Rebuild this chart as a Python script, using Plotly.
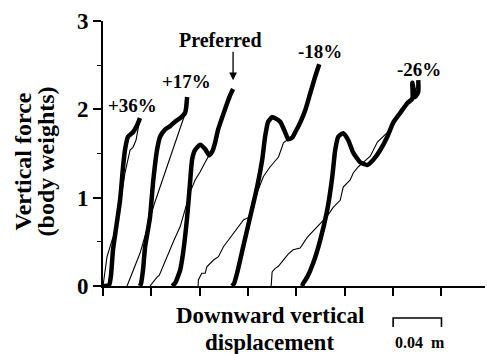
import plotly.graph_objects as go

# ---- data (displacement in m, force in body weights) ----
p36_thick_x = [0, 0.005, 0.0066, 0.0083, 0.0141, 0.0166, 0.0182, 0.0207, 0.0248, 0.0282, 0.0306]
p36_thick_y = [0, 0.01, 0.12, 0.41, 0.97, 1.35, 1.54, 1.69, 1.74, 1.82, 1.90]
p36_thin_x = [0, 0.0033, 0.0075, 0.0099, 0.0141, 0.0182, 0.0224, 0.0248, 0.0273, 0.029, 0.0306]
p36_thin_y = [0, 0.33, 0.52, 0.61, 0.92, 1.28, 1.54, 1.57, 1.65, 1.80, 1.90]

p17_thick_x = [0.0306, 0.0315, 0.0331, 0.0348, 0.0389, 0.0414, 0.0447, 0.0472, 0.0513, 0.0555, 0.0596, 0.0638, 0.0679, 0.0687, 0.0696]
p17_thick_y = [0, 0.03, 0.18, 0.44, 0.78, 1.17, 1.54, 1.69, 1.77, 1.81, 1.86, 1.90, 1.96, 2.01, 2.14]
p17_thin_x = [0.0199, 0.0306, 0.0422, 0.0497, 0.0571, 0.0638, 0.0679, 0.0696]
p17_thin_y = [0, 0.37, 0.92, 1.22, 1.54, 1.81, 1.95, 2.11]

pref_thick_x = [0.0571, 0.0596, 0.0638, 0.0662, 0.0696, 0.072, 0.0737, 0.0762, 0.0803, 0.0845, 0.0878, 0.0903, 0.0927, 0.0952, 0.0994, 0.1027, 0.1052, 0.1076]
pref_thick_y = [0, 0.03, 0.18, 0.37, 0.78, 1.17, 1.43, 1.54, 1.60, 1.55, 1.48, 1.52, 1.62, 1.77, 1.94, 2.07, 2.16, 2.23]
pref_thin_x = [0.0389, 0.0406, 0.0447, 0.0465, 0.0489, 0.053, 0.0588, 0.0638, 0.0679, 0.072, 0.0762, 0.0803, 0.0845, 0.0878, 0.0903, 0.0927, 0.0969, 0.1018, 0.1076]
pref_thin_y = [0, 0.03, 0.10, 0.12, 0.20, 0.33, 0.52, 0.67, 0.86, 1.06, 1.20, 1.29, 1.40, 1.48, 1.54, 1.63, 1.82, 2.04, 2.22]

m18_thick_x = [0.1068, 0.1085, 0.111, 0.1159, 0.1217, 0.1275, 0.1317, 0.1341, 0.1366, 0.1399, 0.1424, 0.1466, 0.1507, 0.1532, 0.1565, 0.159, 0.1631, 0.1673, 0.1714, 0.1755, 0.1789]
m18_thick_y = [0, 0.03, 0.15, 0.44, 0.78, 1.12, 1.43, 1.69, 1.86, 1.91, 1.90, 1.86, 1.74, 1.66, 1.68, 1.74, 1.85, 1.99, 2.18, 2.37, 2.51]
m18_thin_x = [0.0787, 0.0789, 0.0817, 0.0845, 0.0859, 0.0914, 0.0955, 0.0996, 0.1038, 0.1107, 0.1162, 0.1217, 0.1273, 0.1327, 0.1383, 0.1452, 0.1493, 0.1521, 0.1565, 0.1598, 0.1631, 0.1673, 0.1714, 0.1755, 0.178]
m18_thin_y = [0, 0.068, 0.144, 0.144, 0.218, 0.294, 0.332, 0.445, 0.521, 0.653, 0.747, 0.785, 1.05, 1.24, 1.35, 1.46, 1.62, 1.65, 1.69, 1.77, 1.86, 2.00, 2.20, 2.38, 2.49]

m26_thick_x = [0.1648, 0.1656, 0.1689, 0.1739, 0.1797, 0.1855, 0.1896, 0.1921, 0.1946, 0.1987, 0.2029, 0.207, 0.2128, 0.2186, 0.2236, 0.2294, 0.2352, 0.2401, 0.2459, 0.2517, 0.2559, 0.2559, 0.2584, 0.2608, 0.2608]
m26_thick_y = [0, 0.03, 0.10, 0.26, 0.52, 0.86, 1.23, 1.54, 1.69, 1.73, 1.65, 1.51, 1.40, 1.37, 1.43, 1.54, 1.69, 1.85, 1.96, 2.07, 2.12, 2.30, 2.14, 2.20, 2.33]
m26_thin_x = [0.1391, 0.1399, 0.1424, 0.1449, 0.149, 0.1532, 0.1573, 0.1631, 0.1689, 0.1772, 0.1855, 0.1904, 0.1962, 0.1987, 0.2045, 0.207, 0.2112, 0.2153, 0.2211, 0.227, 0.2319, 0.2377, 0.2435, 0.2484, 0.2542, 0.2592, 0.2608]
m26_thin_y = [0, 0.16, 0.20, 0.22, 0.29, 0.36, 0.41, 0.43, 0.55, 0.67, 0.79, 0.89, 0.97, 1.12, 1.20, 1.28, 1.35, 1.40, 1.47, 1.63, 1.69, 1.77, 1.90, 2.02, 2.11, 2.24, 2.31]

curve_labels = ["+36%", "+17%", "Preferred", "-18%", "-26%"]
label_x = [0.0248, 0.0687, 0.0969, 0.1797, 0.2617]
label_y = [2.04, 2.31, 2.78, 2.65, 2.45]

y_tick_vals = [0, 1, 2, 3]
y_tick_text = ["0", "1", "2", "3"]
scale_bar_start = 0.24
scale_bar_len = 0.04

SERIF = "Liberation Serif, Times New Roman, serif"

fig = go.Figure()

thin_sets = [(p36_thin_x, p36_thin_y), (p17_thin_x, p17_thin_y), (pref_thin_x, pref_thin_y),
             (m18_thin_x, m18_thin_y), (m26_thin_x, m26_thin_y)]
thick_sets = [(p36_thick_x, p36_thick_y), (p17_thick_x, p17_thick_y), (pref_thick_x, pref_thick_y),
              (m18_thick_x, m18_thick_y), (m26_thick_x, m26_thick_y)]

for xs, ys in thin_sets:
    fig.add_trace(go.Scatter(x=xs, y=ys, mode="lines", line=dict(color="black", width=1.1),
                             showlegend=False, hoverinfo="skip"))
for xs, ys in thick_sets:
    fig.add_trace(go.Scatter(x=xs, y=ys, mode="lines",
                             line=dict(color="black", width=4.5, shape="spline", smoothing=0.5),
                             showlegend=False, hoverinfo="skip"))

annotations = []
for t, lx, ly in zip(curve_labels, label_x, label_y):
    annotations.append(dict(x=lx, y=ly, xref="x", yref="y", text="<b>" + t + "</b>", showarrow=False,
                            font=dict(family=SERIF, size=20 if t == "Preferred" else 19, color="black")))

# arrow pointing at the preferred curve
annotations.append(dict(x=pref_thick_x[-1], y=pref_thick_y[-1] + 0.1, xref="x", yref="y",
                        ax=pref_thick_x[-1], ay=2.67, axref="x", ayref="y", text="",
                        showarrow=True, arrowhead=2, arrowsize=1.2, arrowwidth=1.3, arrowcolor="black"))

# axis titles
annotations.append(dict(x=0, y=0.47, xref="paper", yref="paper", xshift=-80, text="<b>Vertical force</b>",
                        textangle=-90, showarrow=False, xanchor="center", yanchor="middle",
                        font=dict(family=SERIF, size=24, color="black")))
annotations.append(dict(x=0, y=0.47, xref="paper", yref="paper", xshift=-57, text="<b>(body weights)</b>",
                        textangle=-90, showarrow=False, xanchor="center", yanchor="middle",
                        font=dict(family=SERIF, size=24, color="black")))
annotations.append(dict(x=0.437, y=-0.113, xref="paper", yref="paper", text="<b>Downward vertical</b>",
                        showarrow=False, xanchor="center", yanchor="middle",
                        font=dict(family=SERIF, size=23, color="black")))
annotations.append(dict(x=0.437, y=-0.214, xref="paper", yref="paper", text="<b>displacement</b>",
                        showarrow=False, xanchor="center", yanchor="middle",
                        font=dict(family=SERIF, size=23, color="black")))
annotations.append(dict(x=scale_bar_start + 0.0225, y=-0.215, xref="x", yref="paper",
                        text="<b>0.04\u00a0\u00a0m</b>", showarrow=False, xanchor="center", yanchor="middle",
                        font=dict(family=SERIF, size=16, color="black")))

shapes = [dict(type="path", xref="x", yref="paper",
               path=f"M {scale_bar_start},-0.155 L {scale_bar_start},-0.121 "
                    f"L {scale_bar_start + scale_bar_len},-0.121 L {scale_bar_start + scale_bar_len},-0.155",
               line=dict(color="black", width=1.6))]

fig.update_layout(
    width=487, height=354,
    margin=dict(l=103, r=2, t=21, b=68),
    paper_bgcolor="white", plot_bgcolor="white",
    showlegend=False,
    annotations=annotations,
    shapes=shapes,
    xaxis=dict(range=[0, 0.316], showgrid=False, zeroline=False, showline=True, linecolor="black",
               linewidth=2, ticks="outside", tickcolor="black", ticklen=8, tickwidth=1.5,
               tick0=0, dtick=0.04, showticklabels=False),
    yaxis=dict(range=[0, 3], showgrid=False, zeroline=False, showline=True, linecolor="black",
               linewidth=2, ticks="outside", tickcolor="black", ticklen=8, tickwidth=1.5,
               tickvals=y_tick_vals, ticktext=["<b>" + t + "</b>" for t in y_tick_text],
               tickfont=dict(family=SERIF, size=23, color="black"),
               minor=dict(dtick=0.5, ticks="outside", ticklen=4, tickcolor="black", tickwidth=1.2)),
)

fig.write_html("out.html")
